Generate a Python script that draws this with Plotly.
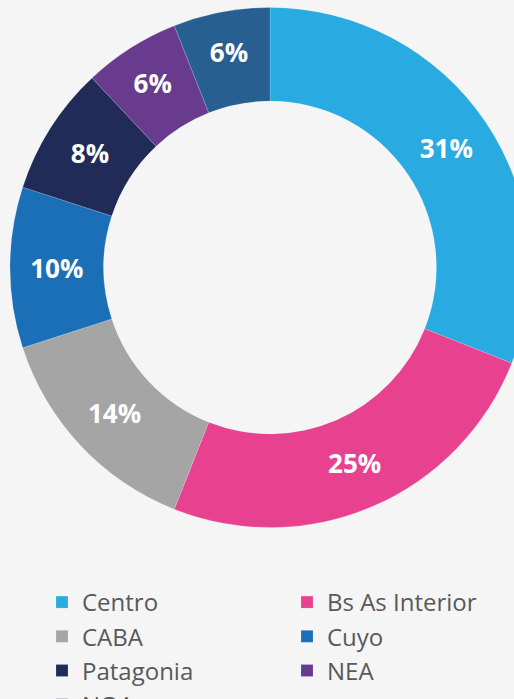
import plotly.graph_objects as go

categories = ["Centro", "Bs As Interior", "CABA", "Cuyo", "Patagonia", "NEA", "NOA"]
values = [31, 25, 14, 10, 8, 6, 6]
colors = ["#29abe2", "#e8418f", "#a5a5a5", "#1a6fb7", "#202c57", "#683b8e", "#285f91"]

W, H = 540, 730
cx, cy, R = 270, 267.5, 260

fig = go.Figure(go.Pie(
    labels=categories,
    values=values,
    marker=dict(colors=colors, line=dict(color="rgba(255,255,255,0.25)", width=0.6)),
    hole=0.64,
    sort=False,
    direction="clockwise",
    rotation=0,
    texttemplate="%{value}%",
    textposition="inside",
    insidetextorientation="horizontal",
    textfont=dict(family="Open Sans", size=26, color="white", weight="bold"),
    domain=dict(x=[(cx - R) / W, (cx + R) / W], y=[1 - (cy + R) / H, 1 - (cy - R) / H]),
    hoverinfo="label+percent",
))

fig.update_layout(
    width=W, height=H,
    margin=dict(l=0, r=0, t=0, b=0),
    paper_bgcolor="#f5f5f5",
    plot_bgcolor="#f5f5f5",
    showlegend=True,
    legend=dict(
        orientation="h",
        x=42 / W, xanchor="left",
        y=1 - 580 / H, yanchor="top",
        entrywidth=200,
        entrywidthmode="pixels",
        font=dict(family="Open Sans", size=24, color="#595959"),
        bgcolor="rgba(0,0,0,0)",
        traceorder="normal",
    ),
)

fig.write_html("out.html", post_script="document.body.style.overflow='hidden';document.body.style.margin='0';")
